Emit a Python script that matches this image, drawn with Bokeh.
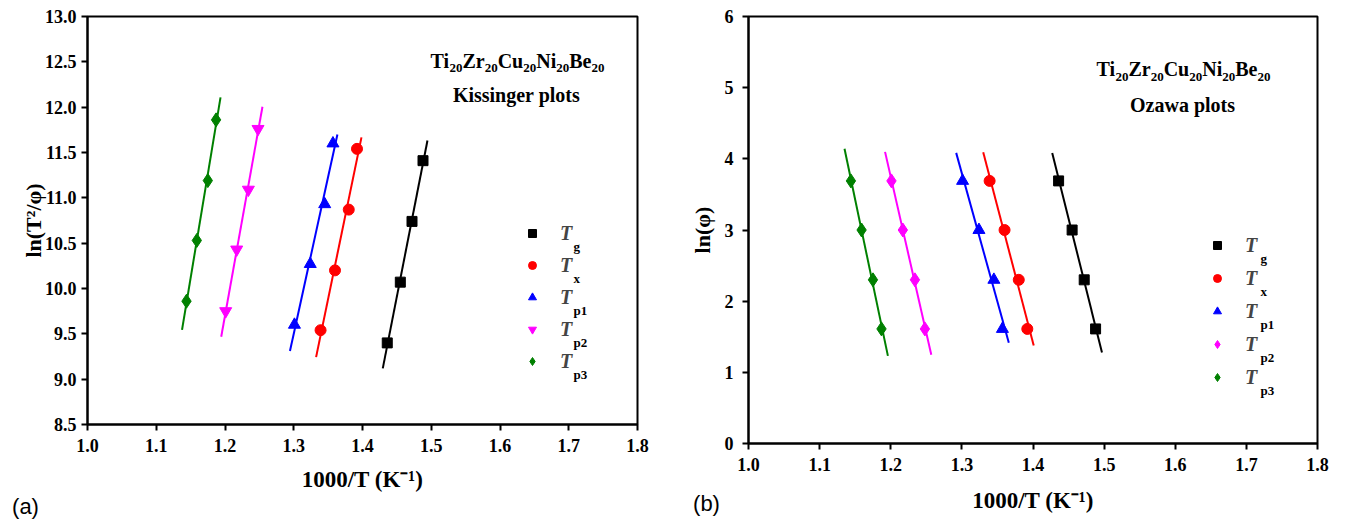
import numpy as np
from bokeh.plotting import figure
from bokeh.layouts import row
from bokeh.models import Label, Legend, LegendItem, FixedTicker, PrintfTickFormatter, Range1d
from bokeh.embed import file_html
from bokeh.resources import INLINE

# ---------------- data ----------------
series = ["g", "x", "p1", "p2", "p3"]
colors = ["#000000", "#ff0000", "#0000ff", "#ff00ff", "#008000"]

x_Tg = [1.436, 1.455, 1.472, 1.488]
x_Tx = [1.339, 1.360, 1.380, 1.392]
x_Tp1 = [1.301, 1.324, 1.345, 1.357]
x_Tp2 = [1.201, 1.217, 1.234, 1.248]
x_Tp3 = [1.144, 1.159, 1.175, 1.187]

kis_Tg = [9.40, 10.07, 10.74, 11.41]
kis_Tx = [9.54, 10.20, 10.87, 11.54]
kis_Tp1 = [9.60, 10.27, 10.93, 11.60]
kis_Tp2 = [9.75, 10.43, 11.09, 11.76]
kis_Tp3 = [9.86, 10.53, 11.19, 11.86]

oza_lnphi = [3.69, 3.00, 2.30, 1.61]

x_ticks = [1.0, 1.1, 1.2, 1.3, 1.4, 1.5, 1.6, 1.7, 1.8]
kis_ticks = [8.5, 9.0, 9.5, 10.0, 10.5, 11.0, 11.5, 12.0, 12.5, 13.0]
oza_ticks = [0, 1, 2, 3, 4, 5, 6]

xs = [x_Tg, x_Tx, x_Tp1, x_Tp2, x_Tp3]
kis = [kis_Tg, kis_Tx, kis_Tp1, kis_Tp2, kis_Tp3]
oza = [oza_lnphi] * 5

SERIF = "Liberation Serif"
SANS = "Liberation Sans"

# approximate Times Bold advance widths (em)
MET = {" ": 0.25, "(": 0.333, ")": 0.333, "/": 0.278, "-": 0.333, ".": 0.25,
       "B": 0.667, "C": 0.722, "K": 0.778, "N": 0.722, "O": 0.778, "T": 0.667, "Z": 0.667,
       "a": 0.5, "e": 0.444, "g": 0.5, "i": 0.278, "l": 0.278, "n": 0.556, "o": 0.5,
       "p": 0.556, "r": 0.444, "s": 0.389, "t": 0.333, "u": 0.556, "w": 0.722, "x": 0.5,
       "z": 0.444}


def tw(s, size):
    return sum(0.5 if c.isdigit() else MET.get(c, 0.5) for c in s) * size


def put(p, fl, fb, X, Y, text, size, style="bold", font=SERIF, align="left"):
    # (X, Y): canvas position of the text's vertical middle
    p.add_layout(Label(x=X - fl, y=fb - Y, x_units="screen", y_units="screen", text=text,
                       text_font=font, text_font_size=f"{size}px", text_font_style=style,
                       text_align=align, text_baseline="middle", text_color="black"))


def runs_h(p, fl, fb, Xc, Y, runs):
    total = sum(tw(t, s) for t, s, st, d in runs)
    x = Xc - total / 2
    for t, s, st, d in runs:
        put(p, fl, fb, x, Y + d, t, s, st)
        x += tw(t, s)


def formula(p, fl, fb, Xc, Y):
    runs = []
    for el in ["Ti", "Zr", "Cu", "Ni", "Be"]:
        runs.append((el, 20, "bold", 0))
        runs.append(("20", 13, "bold", 7.5))
    runs_h(p, fl, fb, Xc, Y, runs)


def make_panel(yvals, y_rng, y_ticks, y_fmt, fl, fr, ft, fbm, fw, fh, markers, sizes,
               xlabel, ylabel, xl_standoff, yl_standoff, y_standoff):
    p = figure(frame_width=fw, frame_height=fh, min_border_left=fl, min_border_right=fr,
               min_border_top=ft, min_border_bottom=fbm,
               x_range=Range1d(1.0, 1.8), y_range=Range1d(*y_rng),
               output_backend="svg", toolbar_location=None)
    p.xgrid.visible = False
    p.ygrid.visible = False
    p.outline_line_color = "black"
    p.outline_line_width = 2
    p.outline_line_alpha = 1
    p.background_fill_color = "white"
    p.border_fill_color = "white"
    for ax, ticks, fmt in ((p.xaxis[0], x_ticks, "%.1f"), (p.yaxis[0], y_ticks, y_fmt)):
        ax.ticker = FixedTicker(ticks=ticks)
        ax.formatter = PrintfTickFormatter(format=fmt)
        ax.minor_tick_line_color = None
        ax.major_tick_out = 6
        ax.major_tick_in = 0
        ax.major_tick_line_width = 2
        ax.axis_line_width = 2
        ax.major_label_text_font = SERIF
        ax.major_label_text_font_style = "bold"
        ax.major_label_text_font_size = "18px"
        ax.major_label_text_color = "black"
        ax.axis_label_text_font = SERIF
        ax.axis_label_text_font_style = "bold"
        ax.axis_label_text_color = "black"
    p.xaxis.major_label_standoff = 8
    p.yaxis.major_label_standoff = y_standoff
    p.xaxis.axis_label = xlabel
    p.yaxis.axis_label = ylabel
    p.xaxis.axis_label_text_font_size = "23px"
    p.yaxis.axis_label_text_font_size = "22px"
    p.xaxis.axis_label_standoff = xl_standoff
    p.yaxis.axis_label_standoff = yl_standoff
    rends = []
    for xv, yv, c, m, s in zip(xs, yvals, colors, markers, sizes):
        k, b = np.polyfit(xv, yv, 1)
        ext = 0.0065 if y_rng[1] > 10 else 0.009
        lx = [min(xv) - ext, max(xv) + ext]
        p.line(lx, [k * v + b for v in lx], line_color=c, line_width=2)
        r = p.scatter(xv, yv, marker=m, size=s, fill_color=c, line_color=c)
        rends.append(r)
    return p, rends


def legend(p, rends, fl, fb, x_marker, y_first, step):
    gh = 24
    sp = step - gh
    n = len(rends)
    height = n * gh + (n - 1) * sp
    bottom = y_first - gh / 2 + height
    lg = Legend(items=[LegendItem(label="T", renderers=[r]) for r in rends],
                location=(x_marker - 10 - fl, fb - bottom), padding=0, margin=0,
                spacing=sp, glyph_width=20, glyph_height=gh, label_height=gh,
                label_standoff=18, border_line_alpha=0, background_fill_alpha=0,
                label_text_font=SERIF, label_text_font_style="bold italic",
                label_text_font_size="20px")
    p.add_layout(lg)


X_TITLE = "1000/T (K\u207b\u00b9)"
TOP = 16

# ---------------- left panel (a): Kissinger ----------------
FL1, FW1, FH1, FR1 = 87, 550, 408, 43
FB1 = TOP + FH1
p1, r1 = make_panel(kis, (8.5, 13.0), kis_ticks, "%.1f", FL1, FR1, TOP, 521 - FB1, FW1, FH1,
                    ["square", "circle", "triangle", "inverted_triangle", "diamond"],
                    [10, 11, 12, 12, 14], X_TITLE, "ln(T\u00b2/\u03c6)", 12, -4, 5)

legend(p1, r1, FL1, FB1, 532, 233, 32)
for i, s in enumerate(series):
    put(p1, FL1, FB1, 573, 233 + 32 * i + 13, s, 13, "bold")

formula(p1, FL1, FB1, 517, 60)
runs_h(p1, FL1, FB1, 516, 94, [("Kissinger plots", 20, "bold", 0)])

# panel tag "(a)" lives in the (otherwise empty) right side panel, so it is not clipped
p1.add_layout(Label(x=25 - (FL1 + FW1), y=FB1 - 506, x_units="screen", y_units="screen",
                    text="(a)", text_font=SANS, text_font_size="22px",
                    text_align="center", text_baseline="middle", text_color="black"), "right")

# ---------------- right panel (b): Ozawa ----------------
FL2, FW2, FH2, FR2 = 68, 569, 427, 28
FB2 = TOP + FH2
OX = 680
p2, r2 = make_panel(oza, (0, 6), oza_ticks, "%d", FL2, FR2, TOP, 521 - FB2, FW2, FH2,
                    ["square", "circle", "triangle", "diamond", "diamond"],
                    [10, 11, 12, 14, 14], X_TITLE, "ln(\u03c6)", 14, 7, 9)

legend(p2, r2, OX + FL2, FB2, 1217, 245, 33)
for i, s in enumerate(series):
    put(p2, OX + FL2, FB2, 1260, 245 + 33 * i + 13, s, 13, "bold")

formula(p2, OX + FL2, FB2, 1183, 68.5)
runs_h(p2, OX + FL2, FB2, 1182, 104, [("Ozawa plots", 20, "bold", 0)])

p2.add_layout(Label(x=706 - (OX + FL2 + FW2), y=FB2 - 503, x_units="screen", y_units="screen",
                    text="(b)", text_font=SANS, text_font_size="22px",
                    text_align="center", text_baseline="middle", text_color="black"), "right")

layout = row(p1, p2)
open("out.html", "w").write(file_html(layout, INLINE))
